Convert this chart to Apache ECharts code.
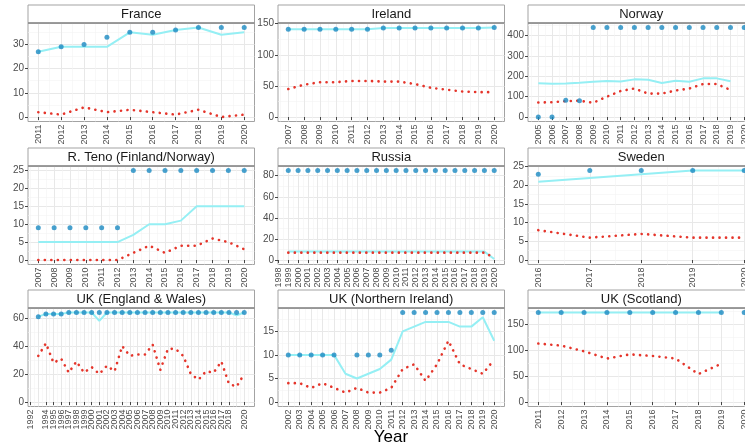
<!DOCTYPE html>
<html><head><meta charset="utf-8">
<script src="https://cdn.jsdelivr.net/npm/echarts@6/dist/echarts.min.js"></script>
<style>html,body{margin:0;padding:0;background:#fff;overflow:hidden}#c{width:745px;height:445px}</style>
</head><body><div id="c"></div><script>
// ---------------- data ----------------
const franceYears = [2011,2012,2013,2014,2015,2016,2017,2018,2019,2020];
const franceBlue  = [27,29,30,33,35,35,36,37,37,37];
const franceCyan  = [27,29,29,29,35,34,36,37,34,35];
const franceRed   = [2,1,4,2,3,2,1,3,0,1];
const franceYTicks = [0,10,20,30];

const irelandYears = [2007,2008,2009,2010,2011,2012,2013,2014,2015,2016,2017,2018,2019,2020];
const irelandBlue  = [141,141,141,141,141,141,143,143,143,143,143,143,143,144];
const irelandCyan  = [141,141,141,141,141,141,143,143,143,143,143,143,143,144];
const irelandRed   = [45,52,56,56,58,58,57,57,53,47,44,41,40,40];
const irelandYTicks = [0,50,100,150];

const norwayYears = [2005,2006,2007,2008,2009,2010,2011,2012,2013,2014,2015,2016,2017,2018,2019,2020];
const norwayBlue  = [0,0,82,80,440,440,440,440,440,440,440,440,440,440,440,440];
const norwayCyan  = [166,163,165,168,173,177,175,185,183,167,178,173,190,190,176,null];
const norwayRed   = [71,73,78,80,70,100,128,140,115,115,130,140,162,162,133,null];
const norwayYTicks = [0,100,200,300,400];

const tenoYears = [2007,2008,2009,2010,2011,2012,2013,2014,2015,2016,2017,2018,2019,2020];
const tenoBlue  = [9,9,9,9,9,9,25,25,25,25,25,25,25,25];
const tenoCyan  = [5,5,5,5,5,5,7,10,10,11,15,15,15,15];
const tenoRed   = [0,0,0,0,0,0,2,4,2,4,4,6,5,3];
const tenoYTicks = [0,5,10,15,20,25];

const russiaYears = [1999,2000,2001,2002,2003,2004,2005,2006,2007,2008,2009,2010,2011,2012,2013,2014,2015,2016,2017,2018,2019,2020];
const russiaBlue  = [85,85,85,85,85,85,85,85,85,85,85,85,85,85,85,85,85,85,85,85,85,85];
const russiaCyan  = [8,8,8,8,8,8,8,8,8,8,8,8,8,8,8,8,8,8,8,8,8,1];
const russiaRed   = [7,7,7,7,7,7,7,7,7,7,7,7,7,7,7,7,7,7,7,7,7,2];
const russiaYTicks = [0,20,40,60,80];

const swedenYears = [2016,2017,2018,2019,2020];
const swedenBlue  = [23,24,24,24,24];
const swedenCyan  = [21,22,23,24,24];
const swedenRed   = [8,6,7,6,6];
const swedenYTicks = [0,5,10,15,20,25];

const ukewYears = [1993,1994,1995,1996,1997,1998,1999,2000,2001,2002,2003,2004,2005,2006,2007,2008,2009,2010,2011,2012,2013,2014,2015,2016,2017,2018,2019,2020];
const ukewBlue  = [61,63,63,63,64,64,64,64,64,64,64,64,64,64,64,64,64,64,64,64,64,64,64,64,64,64,64,64];
const ukewCyan  = [61,63,63,63,64,64,64,64,58,64,64,64,64,64,64,64,64,64,64,64,64,64,64,64,64,64,62,64];
const ukewRed   = [33,42,28,31,21,29,21,25,20,26,22,40,33,34,34,41,23,38,38,33,20,16,22,21,29,13,11,20];
const ukewYTicks = [0,20,40,60];

const ukniYears = [2002,2003,2004,2005,2006,2007,2008,2009,2010,2011,2012,2013,2014,2015,2016,2017,2018,2019,2020];
const ukniBlue  = [10,10,10,10,10,null,10,10,10,11,19,19,19,19,19,19,19,19,19];
const ukniCyan  = [10,10,10,10,10,6,5,6,7,9,15,16,17,17,17,16,16,18,13];
const ukniRed   = [4,4,3,4,3,2,3,2,2,3,7,8,4.5,8,13,8,7,6,9];
const ukniYTicks = [0,5,10,15];

const scotYears = [2011,2012,2013,2014,2015,2016,2017,2018,2019,2020];
const scotBlue  = [173,173,173,173,173,173,173,173,173,173];
const scotCyan  = [173,173,173,173,173,173,173,173,173,null];
const scotRed   = [113,109,98,84,92,89,84,54,74,null];
const scotYTicks = [0,50,100,150];

const panelTitles = ['France','Ireland','Norway','R. Teno (Finland/Norway)','Russia','Sweden','UK (England & Wales)','UK (Northern Ireland)','UK (Scotland)'];
const xTitle = 'Year';
const yearBreakFirst = 1992, yearBreakLast = 2020;   // x tick labels: every year in this span

// ---------------- build ----------------
const panels = [
  {years:franceYears, blue:franceBlue, cyan:franceCyan, red:franceRed, yTicks:franceYTicks},
  {years:irelandYears, blue:irelandBlue, cyan:irelandCyan, red:irelandRed, yTicks:irelandYTicks},
  {years:norwayYears, blue:norwayBlue, cyan:norwayCyan, red:norwayRed, yTicks:norwayYTicks},
  {years:tenoYears, blue:tenoBlue, cyan:tenoCyan, red:tenoRed, yTicks:tenoYTicks},
  {years:russiaYears, blue:russiaBlue, cyan:russiaCyan, red:russiaRed, yTicks:russiaYTicks},
  {years:swedenYears, blue:swedenBlue, cyan:swedenCyan, red:swedenRed, yTicks:swedenYTicks},
  {years:ukewYears, blue:ukewBlue, cyan:ukewCyan, red:ukewRed, yTicks:ukewYTicks},
  {years:ukniYears, blue:ukniBlue, cyan:ukniCyan, red:ukniRed, yTicks:ukniYTicks},
  {years:scotYears, blue:scotBlue, cyan:scotCyan, red:scotRed, yTicks:scotYTicks}
];

const FONT = '"Liberation Sans", Arial, sans-serif';
const W = 226.5, H = 98.5, STRIP = 18;
const colLeft = [28, 278, 528];
const rowTop = [23, 166, 308];

const grids = [], xAxes = [], yAxes = [], series = [], graphics = [];
const pairs = (xs, ys) => xs.map((x, j) => [x, ys[j]]).filter(d => d[1] != null);

panels.forEach((p, i) => {
  const r = Math.floor(i / 3), c = i % 3;
  const left = colLeft[c], top = rowTop[r];
  grids.push({left: left, top: top, width: W, height: H, show: true, outerBoundsMode: 'none',
    borderColor: '#a3a3a3', borderWidth: 1, backgroundColor: '#ffffff', containLabel: false});

  const x0 = p.years[0], x1 = p.years[p.years.length - 1], xp = (x1 - x0) * 0.05;
  const xmin = x0 - xp, xmax = x1 + xp;
  const vals = [].concat(p.blue, p.cyan, p.red).filter(v => v != null);
  const y0 = Math.min(0, ...vals), y1 = Math.max(...vals), yp = (y1 - y0) * 0.05;
  const ymin = y0 - yp, ymax = y1 + yp;

  const xMaj = []; for (let y = Math.max(Math.ceil(xmin), yearBreakFirst); y <= Math.min(xmax, yearBreakLast); y++) xMaj.push(y);
  const xMin = []; for (let y = Math.ceil(xmin - 0.5) + 0.5; y <= xmax; y++) xMin.push(y);
  const step = p.yTicks[1] - p.yTicks[0];
  const yMin = []; for (let v = p.yTicks[0] - step / 2; v <= ymax; v += step) if (v >= ymin) yMin.push(v);

  xAxes.push({gridIndex: i, type: 'value', min: xmin, max: xmax, position: 'bottom',
    axisLine: {show: false},
    axisTick: {show: true, customValues: xMaj, length: 3, lineStyle: {color: '#444', width: 1}},
    axisLabel: {show: true, customValues: xMaj, rotate: 90, fontSize: 9, color: '#4d4d4d', margin: 3,
      showMinLabel: true, showMaxLabel: true, hideOverlap: false,
      fontFamily: FONT, formatter: v => String(v)},
    splitLine: {show: true, lineStyle: {color: '#e8e8e8', width: 1}}});
  xAxes.push({gridIndex: i, type: 'value', min: xmin, max: xmax, position: 'top',
    axisLine: {show: false},
    axisTick: {show: false, customValues: xMin},
    axisLabel: {show: false, customValues: xMin},
    splitLine: {show: true, lineStyle: {color: '#f3f3f3', width: 0.6}}});
  yAxes.push({gridIndex: i, type: 'value', min: ymin, max: ymax, position: 'left',
    axisLine: {show: false},
    axisTick: {show: true, customValues: p.yTicks, length: 3, lineStyle: {color: '#444', width: 1}},
    axisLabel: {show: true, customValues: p.yTicks, fontSize: 10, color: '#4d4d4d', margin: 4,
      showMinLabel: true, showMaxLabel: true,
      fontFamily: FONT, formatter: v => String(v)},
    splitLine: {show: true, lineStyle: {color: '#e8e8e8', width: 1}}});
  yAxes.push({gridIndex: i, type: 'value', min: ymin, max: ymax, position: 'right',
    axisLine: {show: false},
    axisTick: {show: false, customValues: yMin},
    axisLabel: {show: false, customValues: yMin},
    splitLine: {show: true, lineStyle: {color: '#f3f3f3', width: 0.6}}});

  series.push({type: 'line', name: panelTitles[i] + ' line', xAxisIndex: 2 * i, yAxisIndex: 2 * i,
    data: pairs(p.years, p.cyan), symbol: 'none', showSymbol: false, silent: true, z: 2,
    lineStyle: {color: '#95eff4', width: 2}});
  series.push({type: 'line', name: panelTitles[i] + ' dotted', xAxisIndex: 2 * i, yAxisIndex: 2 * i,
    data: pairs(p.years, p.red), symbol: 'none', showSymbol: false, silent: true, z: 3,
    lineStyle: {color: '#e5352b', width: 2.6, type: [0.1, 6.4], cap: 'round'}});
  series.push({type: 'scatter', name: panelTitles[i] + ' points', xAxisIndex: 2 * i, yAxisIndex: 2 * i,
    data: pairs(p.years, p.blue), symbolSize: 5, silent: true, z: 4,
    itemStyle: {color: '#1a8ac2'}});

  graphics.push({type: 'rect', shape: {x: left, y: top - STRIP, width: W, height: STRIP},
    style: {fill: '#ffffff', stroke: '#a3a3a3', lineWidth: 1}, z: 10});
  graphics.push({type: 'line', shape: {x1: left, y1: top, x2: left + W, y2: top},
    style: {stroke: '#8a8a8a', lineWidth: 1.5}, z: 11});
  graphics.push({type: 'text', x: left + W / 2, y: top - STRIP / 2 + 0.5,
    style: {text: panelTitles[i], font: '13px ' + FONT, fill: '#1a1a1a',
      textAlign: 'center', textVerticalAlign: 'middle', align: 'center', verticalAlign: 'middle'}, z: 12});
});

graphics.push({type: 'text', x: 391, y: 437,
  style: {text: xTitle, font: '17px ' + FONT, fill: '#000000',
    textAlign: 'center', textVerticalAlign: 'middle', align: 'center', verticalAlign: 'middle'}, z: 12});

const chart = echarts.init(document.getElementById('c'), null, {renderer: 'canvas', devicePixelRatio: 1});
chart.setOption({
  animation: false,
  backgroundColor: '#ffffff',
  grid: grids, xAxis: xAxes, yAxis: yAxes, series: series,
  graphic: {elements: graphics}
});
</script></body></html>
